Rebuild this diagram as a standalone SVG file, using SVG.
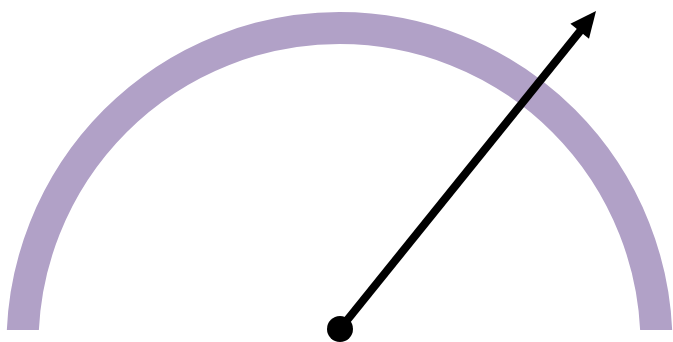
<svg xmlns="http://www.w3.org/2000/svg" width="673" height="342" viewBox="0 0 673 342">
<defs>
<clipPath id="c"><rect x="0" y="0" width="673" height="330"/></clipPath>
</defs>
<rect width="673" height="342" fill="#fff"/>
<g id="arc" clip-path="url(#c)">
<path d="M 22.5 345 A 317 317 0 0 1 656.5 345" fill="none" stroke="#b1a1c7" stroke-width="32"/>
</g>
<g id="connectors">
<line x1="340" y1="329" x2="581" y2="30" stroke="#000" stroke-width="8"/>
<polygon points="596,11 589,38.8 570.4,23.8" fill="#000"/>
<circle cx="340" cy="329" r="13" fill="#000"/>
</g>
</svg>
